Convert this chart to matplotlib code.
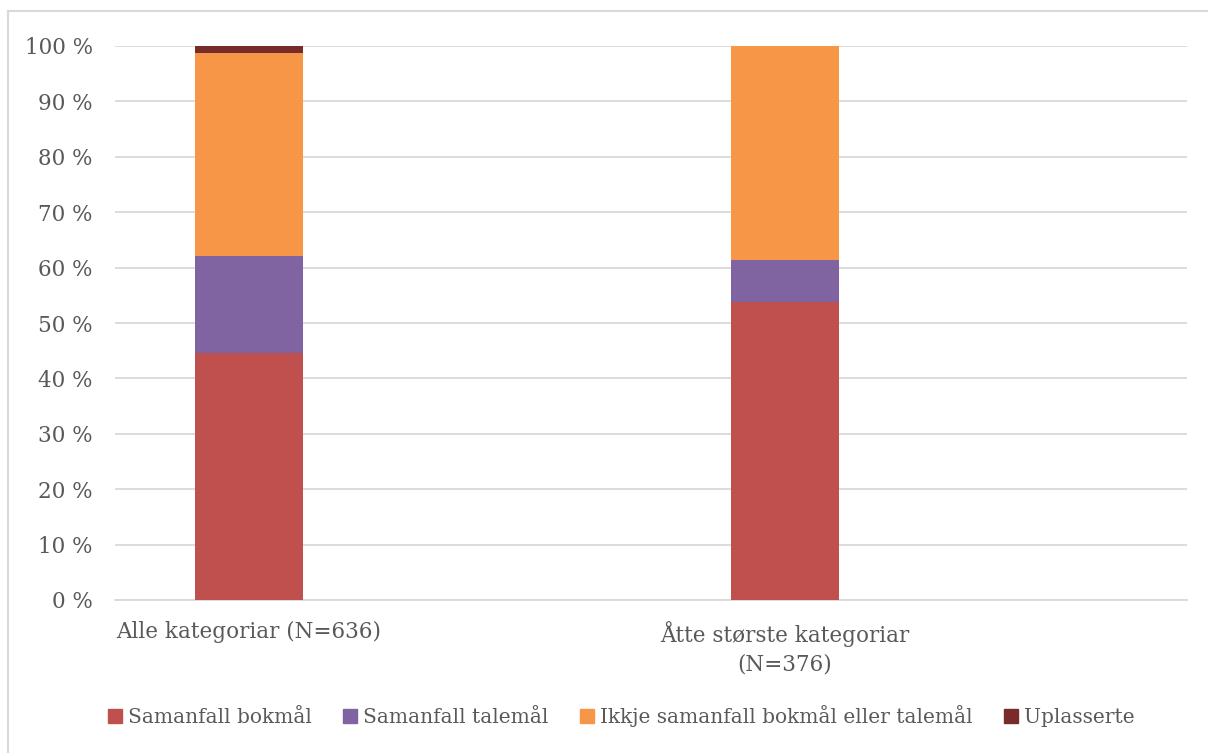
import numpy as np
import matplotlib.pyplot as plt
from matplotlib.lines import Line2D

categories = ["Alle kategoriar (N=636)", "Åtte største kategoriar\n(N=376)"]
series = ["Samanfall bokmål", "Samanfall talemål",
          "Ikkje samanfall bokmål eller talemål", "Uplasserte"]
values = {
    "Samanfall bokmål": [44.6, 53.8],
    "Samanfall talemål": [17.5, 7.6],
    "Ikkje samanfall bokmål eller talemål": [36.6, 38.6],
    "Uplasserte": [1.3, 0.0],
}
colors = ["#c0504d", "#8064a2", "#f79646", "#772c2a"]
ticks = np.arange(0, 101, 10)
tick_labels = [f"{t} %" for t in ticks]

plt.rcParams['font.family'] = ['DejaVu Serif']
txt = "#595959"

fig = plt.figure(figsize=(12.08, 7.53), dpi=100)
ax = fig.add_axes([115 / 1208, 1 - 600 / 753, 1072 / 1208, 554 / 753])

x = np.arange(len(categories))
bottom = np.zeros(len(categories))
for name, c in zip(series, colors):
    v = np.array(values[name])
    ax.bar(x, v, 0.2, bottom=bottom, color=c, label=name, zorder=3)
    bottom += v

ax.set_xlim(-0.25, 1.75)
ax.set_ylim(0, 100)
ax.set_yticks(ticks)
ax.set_yticklabels(tick_labels, fontsize=15.5, color=txt)
ax.set_xticks(x)
ax.set_xticklabels(categories, fontsize=15.5, color=txt, linespacing=1.4)
ax.tick_params(axis='y', length=0, pad=16)
ax.tick_params(axis='x', length=0, pad=15)
ax.grid(axis='y', color="#d9d9d9", linewidth=1.3, zorder=0)
for s in ["left", "right", "top"]:
    ax.spines[s].set_visible(False)
ax.spines["bottom"].set_color("#d9d9d9")
ax.spines["bottom"].set_linewidth(1.3)

handles = [plt.Rectangle((0, 0), 1, 1, color=c) for c in colors]
fig.legend(handles, series, loc="center", bbox_to_anchor=(621 / 1208, 1 - 716 / 753),
           ncol=4, frameon=False, fontsize=14.5, handlelength=0.7, handleheight=0.7,
           handletextpad=0.3, columnspacing=1.55, labelcolor=txt)

# outer chart border
fig.add_artist(Line2D([8 / 1208, 8 / 1208], [0, 1 - 11 / 753], transform=fig.transFigure,
                      color="#d9d9d9", linewidth=1.5))
fig.add_artist(Line2D([8 / 1208, 1], [1 - 11 / 753, 1 - 11 / 753], transform=fig.transFigure,
                      color="#d9d9d9", linewidth=1.5))

fig.savefig("out.png", dpi=100)
